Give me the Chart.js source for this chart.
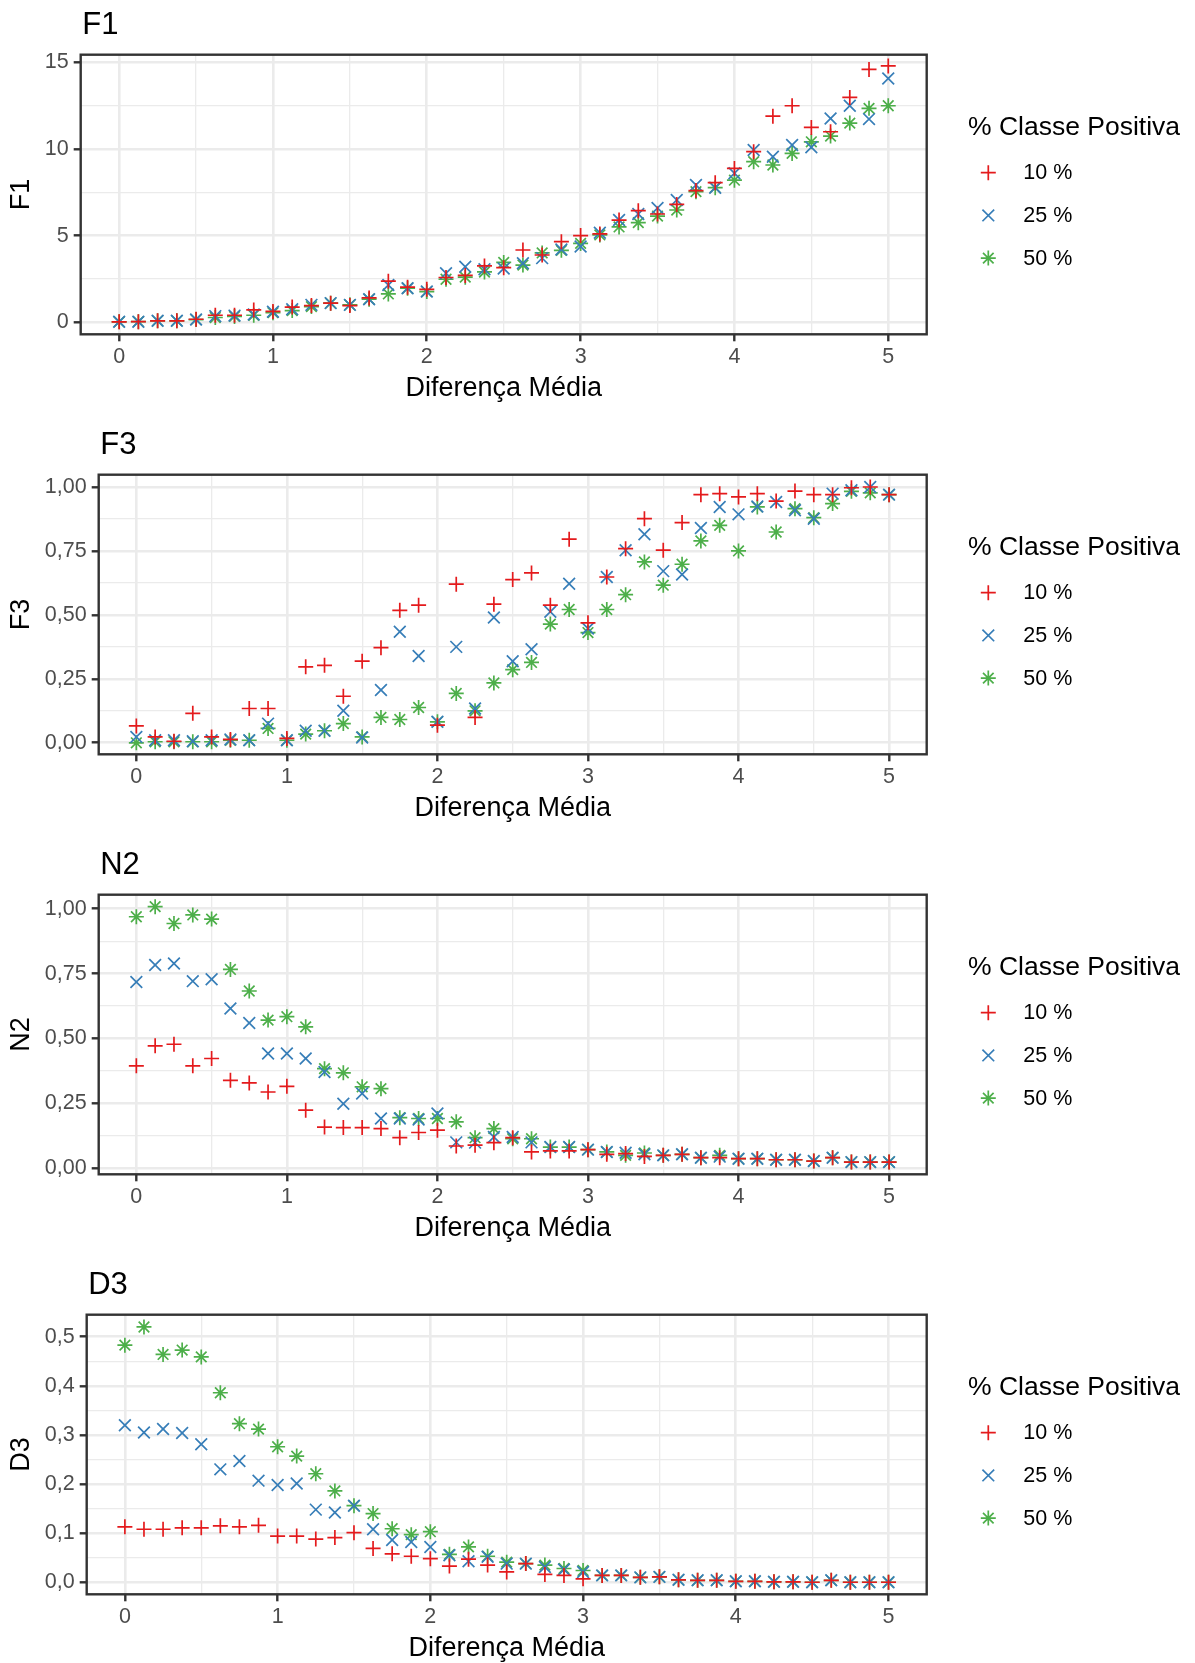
<!DOCTYPE html>
<html>
<head>
<meta charset="utf-8">
<script src="https://cdn.jsdelivr.net/npm/chart.js"></script>
<style>
  html, body { margin: 0; padding: 0; background: #ffffff; overflow: hidden; width: 1195px; height: 1663px; }
  .panel { position: absolute; left: 0; }
</style>
</head>
<body>
<div class="panel" style="top:0px"><canvas id="c1" width="1195" height="420"></canvas></div>
<div class="panel" style="top:420px"><canvas id="c2" width="1195" height="420"></canvas></div>
<div class="panel" style="top:840px"><canvas id="c3" width="1195" height="420"></canvas></div>
<div class="panel" style="top:1260px"><canvas id="c4" width="1195" height="420"></canvas></div>
<script>
// ---------------- DATA ----------------
const xValues = [0, 0.125, 0.25, 0.375, 0.5, 0.625, 0.75, 0.875, 1, 1.125, 1.25, 1.375, 1.5, 1.625, 1.75, 1.875, 2, 2.125, 2.25, 2.375, 2.5, 2.625, 2.75, 2.875, 3, 3.125, 3.25, 3.375, 3.5, 3.625, 3.75, 3.875, 4, 4.125, 4.25, 4.375, 4.5, 4.625, 4.75, 4.875, 5];

const seriesLabels = ['10 %', '25 %', '50 %'];
const legendTitle = '% Classe Positiva';
const xAxisTitle = 'Diferença Média';

const xTickValues = [0, 1, 2, 3, 4, 5];
const xTickLabels = ['0', '1', '2', '3', '4', '5'];
const xMinorValues = [0.5, 1.5, 2.5, 3.5, 4.5];

// F1
const f1_10 = [0.02, 0.03, 0.08, 0.08, 0.17, 0.40, 0.40, 0.71, 0.62, 0.87, 0.96, 1.10, 0.96, 1.40, 2.37, 2.02, 1.90, 2.58, 2.70, 3.25, 3.15, 4.17, 3.88, 4.65, 5.00, 5.10, 5.90, 6.44, 6.25, 6.80, 7.60, 8.06, 8.88, 9.85, 11.90, 12.50, 11.25, 11.00, 12.98, 14.60, 14.80];
const f1_25 = [0.02, 0.03, 0.08, 0.08, 0.15, 0.35, 0.38, 0.44, 0.60, 0.75, 1.00, 1.10, 1.00, 1.33, 2.15, 1.96, 1.77, 2.83, 3.20, 3.06, 3.10, 3.40, 3.70, 4.20, 4.37, 5.17, 5.90, 6.25, 6.60, 7.06, 7.92, 7.77, 8.60, 9.94, 9.56, 10.23, 10.10, 11.77, 12.50, 11.73, 14.08];
const f1_50 = [0.02, 0.03, 0.08, 0.08, 0.15, 0.27, 0.33, 0.40, 0.55, 0.67, 0.90, 1.10, 1.00, 1.33, 1.63, 1.96, 1.77, 2.48, 2.60, 2.90, 3.45, 3.30, 4.00, 4.15, 4.55, 5.04, 5.50, 5.75, 6.13, 6.48, 7.54, 7.77, 8.20, 9.27, 9.08, 9.75, 10.42, 10.75, 11.50, 12.35, 12.50];
const f1TickValues = [0, 5, 10, 15];
const f1TickLabels = ['0', '5', '10', '15'];
const f1MinorValues = [2.5, 7.5, 12.5];

// F3
const f3_10 = [0.066, 0.023, 0.006, 0.115, 0.023, 0.013, 0.134, 0.134, 0.017, 0.297, 0.303, 0.182, 0.319, 0.372, 0.518, 0.538, 0.069, 0.620, 0.099, 0.542, 0.638, 0.664, 0.538, 0.796, 0.469, 0.648, 0.759, 0.876, 0.753, 0.861, 0.970, 0.974, 0.961, 0.974, 0.945, 0.984, 0.970, 0.970, 0.997, 1.000, 0.970];
const f3_25 = [0.023, 0.010, 0.010, 0.006, 0.010, 0.013, 0.010, 0.075, 0.010, 0.047, 0.047, 0.125, 0.021, 0.206, 0.434, 0.339, 0.082, 0.375, 0.134, 0.490, 0.319, 0.366, 0.512, 0.622, 0.447, 0.648, 0.753, 0.815, 0.671, 0.658, 0.840, 0.922, 0.893, 0.924, 0.941, 0.909, 0.876, 0.974, 0.987, 1.000, 0.970];
const f3_50 = [0.000, 0.004, 0.004, 0.004, 0.004, 0.010, 0.010, 0.056, 0.010, 0.034, 0.047, 0.075, 0.023, 0.099, 0.091, 0.138, 0.082, 0.193, 0.125, 0.234, 0.286, 0.314, 0.464, 0.521, 0.431, 0.521, 0.579, 0.707, 0.616, 0.698, 0.789, 0.850, 0.750, 0.922, 0.824, 0.915, 0.880, 0.935, 0.983, 0.977, 0.970];
const unitTickValues = [0, 0.25, 0.5, 0.75, 1];
const unitTickLabels = ['0,00', '0,25', '0,50', '0,75', '1,00'];
const unitMinorValues = [0.125, 0.375, 0.625, 0.875];

// N2
const n2_10 = [0.395, 0.472, 0.478, 0.395, 0.423, 0.339, 0.329, 0.294, 0.316, 0.224, 0.159, 0.157, 0.157, 0.153, 0.118, 0.138, 0.147, 0.086, 0.089, 0.099, 0.118, 0.063, 0.067, 0.067, 0.072, 0.054, 0.057, 0.046, 0.050, 0.054, 0.041, 0.041, 0.037, 0.037, 0.033, 0.033, 0.028, 0.041, 0.024, 0.024, 0.024];
const n2_25 = [0.718, 0.783, 0.789, 0.721, 0.728, 0.616, 0.560, 0.442, 0.442, 0.423, 0.371, 0.249, 0.288, 0.192, 0.192, 0.188, 0.211, 0.100, 0.099, 0.121, 0.121, 0.100, 0.082, 0.082, 0.072, 0.063, 0.060, 0.054, 0.050, 0.054, 0.041, 0.045, 0.037, 0.037, 0.033, 0.033, 0.028, 0.041, 0.024, 0.024, 0.024];
const n2_50 = [0.969, 1.008, 0.943, 0.976, 0.960, 0.766, 0.683, 0.571, 0.584, 0.545, 0.384, 0.368, 0.314, 0.307, 0.195, 0.192, 0.192, 0.179, 0.118, 0.153, 0.114, 0.114, 0.082, 0.082, 0.072, 0.063, 0.050, 0.059, 0.050, 0.054, 0.041, 0.050, 0.037, 0.037, 0.033, 0.033, 0.028, 0.041, 0.024, 0.024, 0.024];

// D3
const d3_10 = [0.113, 0.108, 0.108, 0.111, 0.111, 0.115, 0.113, 0.116, 0.094, 0.094, 0.088, 0.091, 0.101, 0.069, 0.058, 0.053, 0.048, 0.033, 0.047, 0.035, 0.021, 0.038, 0.016, 0.014, 0.007, 0.014, 0.014, 0.010, 0.011, 0.005, 0.004, 0.004, 0.002, 0.002, 0.001, 0.001, 0.000, 0.004, 0.000, 0.000, 0.000];
const d3_25 = [0.320, 0.305, 0.312, 0.304, 0.281, 0.230, 0.247, 0.207, 0.198, 0.201, 0.148, 0.142, 0.156, 0.108, 0.086, 0.082, 0.072, 0.055, 0.043, 0.052, 0.038, 0.038, 0.031, 0.026, 0.021, 0.014, 0.014, 0.010, 0.011, 0.005, 0.004, 0.004, 0.002, 0.002, 0.001, 0.001, 0.000, 0.004, 0.000, 0.000, 0.000];
const d3_50 = [0.483, 0.520, 0.464, 0.473, 0.459, 0.386, 0.323, 0.312, 0.276, 0.257, 0.221, 0.186, 0.156, 0.140, 0.109, 0.097, 0.103, 0.057, 0.072, 0.053, 0.041, 0.038, 0.035, 0.028, 0.024, 0.014, 0.014, 0.010, 0.011, 0.005, 0.004, 0.004, 0.002, 0.002, 0.001, 0.001, 0.000, 0.004, 0.000, 0.000, 0.000];
const d3TickValues = [0, 0.1, 0.2, 0.3, 0.4, 0.5];
const d3TickLabels = ['0,0', '0,1', '0,2', '0,3', '0,4', '0,5'];
const d3MinorValues = [0.05, 0.15, 0.25, 0.35, 0.45];

// ---------------- STYLE ----------------
const FONT = '"Liberation Sans", Arial, Helvetica, sans-serif';
Chart.defaults.font.family = FONT;
const COLORS = ['#E41A1C', '#377EB8', '#4DAF4A'];
const STYLES = ['cross', 'crossRot', 'star'];
const RADII = [7.5, 8.3, 7.5];
const GRID = '#EBEBEB';
const DARK = '#333333';
const TICK_FONT = 21.5;
const AXIS_TITLE_FONT = 27;

function isIn(v, arr) { return arr.some(a => Math.abs(a - v) < 1e-9); }
function labelFor(v, vals, labels) {
  for (let i = 0; i < vals.length; i++) if (Math.abs(vals[i] - v) < 1e-9) return labels[i];
  return '';
}

function drawSymbol(ctx, style, x, y, r) {
  ctx.beginPath();
  if (style === 'cross' || style === 'star') {
    ctx.moveTo(x - r, y); ctx.lineTo(x + r, y);
    ctx.moveTo(x, y - r); ctx.lineTo(x, y + r);
  }
  if (style === 'crossRot' || style === 'star') {
    const d = r * Math.SQRT1_2;
    ctx.moveTo(x - d, y - d); ctx.lineTo(x + d, y + d);
    ctx.moveTo(x - d, y + d); ctx.lineTo(x + d, y - d);
  }
  ctx.stroke();
}

const panelPlugin = {
  id: 'panelDeco',
  afterDatasetsDraw(chart) {
    const {ctx, chartArea: a} = chart;
    ctx.save();
    ctx.strokeStyle = DARK;
    ctx.lineWidth = 2.4;
    ctx.strokeRect(a.left, a.top, a.right - a.left, a.bottom - a.top);
    ctx.restore();
  },
  afterDraw(chart, args, opts) {
    const {ctx, chartArea: a} = chart;
    ctx.save();
    // panel title
    ctx.fillStyle = '#000000';
    ctx.textAlign = 'left';
    ctx.textBaseline = 'alphabetic';
    ctx.font = '31px ' + FONT;
    ctx.fillText(opts.title, a.left + 1.5, 34);
    // legend
    ctx.font = '26.5px ' + FONT;
    ctx.fillText(legendTitle, 968, 134.5);
    ctx.font = TICK_FONT + 'px ' + FONT;
    chart.data.datasets.forEach((ds, k) => {
      const cy = 172.7 + 42.7 * k;
      ctx.strokeStyle = ds.borderColor;
      ctx.lineWidth = 1.7;
      drawSymbol(ctx, ds.pointStyle, 988.3, cy, ds.pointRadius);
      ctx.fillStyle = '#000000';
      ctx.textBaseline = 'middle';
      ctx.fillText(ds.label, 1023.3, cy + 0.5);
    });
    ctx.restore();
  }
};

function makePanel(id, title, yTitle, series, yMin, yMax, yVals, yLabels, yMinor, plotLeft, canvasH) {
  const PLOT_TOP = 54.7, PLOT_BOTTOM = 334.3, PLOT_RIGHT = 926.7, SCALE_BOTTOM = 404.5;
  const yAll = yVals.concat(yMinor).sort((p, q) => p - q);
  const xAll = xTickValues.concat(xMinorValues).sort((p, q) => p - q);
  const datasets = series.map((s, k) => ({
    label: seriesLabels[k],
    data: xValues.map((x, i) => ({x: x, y: s[i]})),
    pointStyle: STYLES[k],
    pointRadius: RADII[k],
    pointHoverRadius: RADII[k],
    borderColor: COLORS[k],
    backgroundColor: COLORS[k],
    pointBorderWidth: 1.7,
    borderWidth: 1.7,
    showLine: false
  }));
  new Chart(document.getElementById(id), {
    type: 'scatter',
    data: {datasets},
    plugins: [panelPlugin],
    options: {
      responsive: false,
      animation: false,
      devicePixelRatio: 1,
      events: [],
      layout: {padding: {top: PLOT_TOP, right: 1195 - PLOT_RIGHT, bottom: canvasH - SCALE_BOTTOM, left: 0}},
      plugins: {
        legend: {display: false},
        tooltip: {enabled: false},
        title: {display: false},
        panelDeco: {title: title}
      },
      scales: {
        x: {
          type: 'linear', min: -0.25, max: 5.25,
          afterBuildTicks: s => { s.ticks = xAll.map(v => ({value: v})); },
          afterFit: s => { s.height = SCALE_BOTTOM - PLOT_BOTTOM; },
          ticks: {autoSkip: false, maxRotation: 0, minRotation: 0, padding: 2.5, color: '#4D4D4D', font: {size: TICK_FONT},
                  callback: v => labelFor(v, xTickValues, xTickLabels)},
          grid: {
            color: GRID,
            lineWidth: c => (c.tick && isIn(c.tick.value, xTickValues)) ? 2.6 : 1.3,
            tickLength: 7,
            tickWidth: 2.4,
            tickColor: c => (c.tick && isIn(c.tick.value, xTickValues)) ? DARK : 'rgba(0,0,0,0)'
          },
          border: {display: false},
          title: {display: true, text: xAxisTitle, color: '#000000', font: {size: AXIS_TITLE_FONT}, padding: {top: 0, bottom: 0}}
        },
        y: {
          type: 'linear', min: yMin, max: yMax,
          afterBuildTicks: s => { s.ticks = yAll.map(v => ({value: v})); },
          afterFit: s => { s.width = plotLeft; },
          ticks: {autoSkip: false, padding: 5, color: '#4D4D4D', font: {size: TICK_FONT},
                  callback: v => labelFor(v, yVals, yLabels)},
          grid: {
            color: GRID,
            lineWidth: c => (c.tick && isIn(c.tick.value, yVals)) ? 2.6 : 1.3,
            tickLength: 7,
            tickWidth: 2.4,
            tickColor: c => (c.tick && isIn(c.tick.value, yVals)) ? DARK : 'rgba(0,0,0,0)'
          },
          border: {display: false},
          title: {display: true, text: yTitle, color: '#000000', font: {size: AXIS_TITLE_FONT}, padding: {top: 5, bottom: 0}}
        }
      }
    }
  });
}

makePanel('c1', 'F1', 'F1', [f1_10, f1_25, f1_50], -0.70, 15.45, f1TickValues, f1TickLabels, f1MinorValues, 80.7, 420);
makePanel('c2', 'F3', 'F3', [f3_10, f3_25, f3_50], -0.045, 1.048, unitTickValues, unitTickLabels, unitMinorValues, 98.7, 420);
makePanel('c3', 'N2', 'N2', [n2_10, n2_25, n2_50], -0.023, 1.054, unitTickValues, unitTickLabels, unitMinorValues, 98.7, 420);
makePanel('c4', 'D3', 'D3', [d3_10, d3_25, d3_50], -0.0245, 0.545, d3TickValues, d3TickLabels, d3MinorValues, 86.7, 420);
</script>
</body>
</html>
